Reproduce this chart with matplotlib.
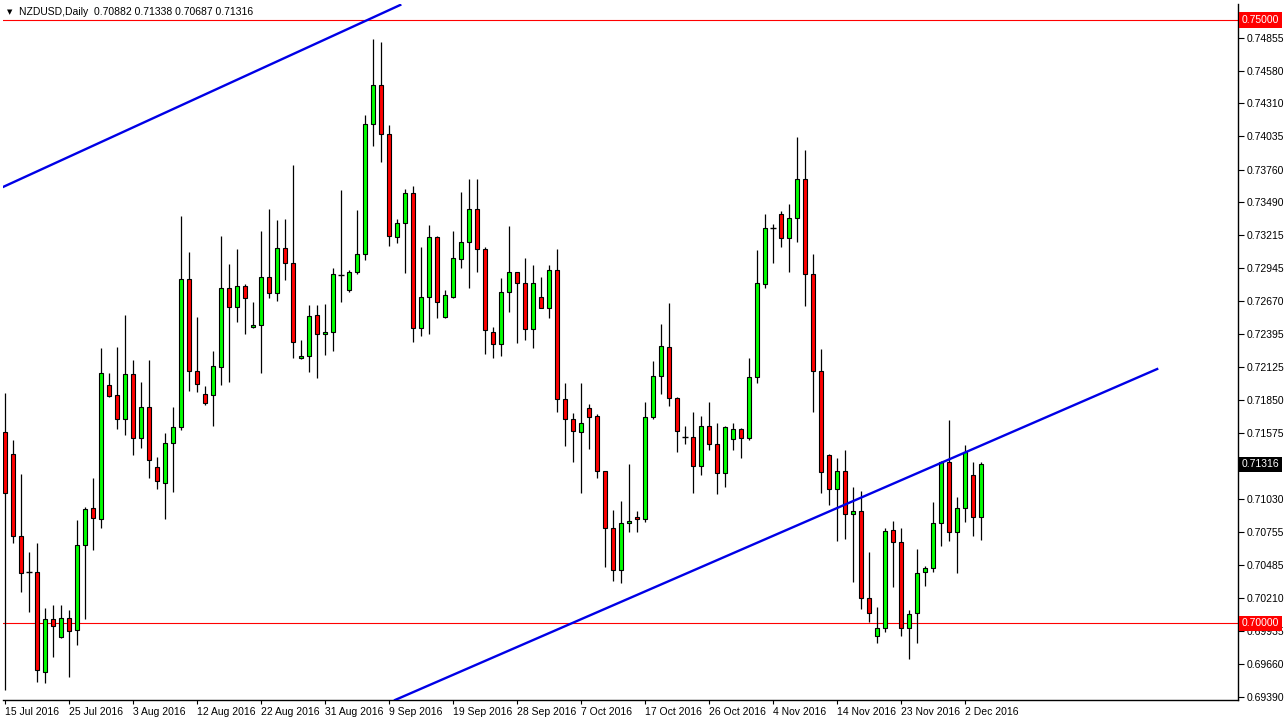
import matplotlib
matplotlib.use("Agg")
import matplotlib.pyplot as plt
import numpy as np

plt.rcParams["font.family"] = ["Liberation Sans", "DejaVu Sans"]

# NZDUSD daily candles
opens = [0.71585, 0.71402, 0.70723, 0.70424, 0.70424, 0.69595, 0.70034, 0.69885, 0.70043, 0.69943,
         0.70648, 0.70955, 0.70863, 0.71974, 0.71891, 0.71692, 0.72066, 0.71535, 0.71792, 0.71295,
         0.71162, 0.71494, 0.71626, 0.72853, 0.72090, 0.71900, 0.71891, 0.72124, 0.72778, 0.72621,
         0.72795, 0.72455, 0.72472, 0.72870, 0.72737, 0.73110, 0.72986, 0.72198, 0.72215, 0.72555,
         0.72397, 0.72414, 0.72886, 0.72762, 0.72911, 0.73060, 0.74138, 0.74461, 0.74055, 0.73201,
         0.73317, 0.73566, 0.72447, 0.72704, 0.73201, 0.72538, 0.72704, 0.73019, 0.73160, 0.73433,
         0.73102, 0.72414, 0.72314, 0.72745, 0.72911, 0.72820, 0.72439, 0.72704, 0.72613, 0.72928,
         0.71858, 0.71692, 0.71585, 0.71784, 0.71717, 0.71261, 0.70789, 0.70441, 0.70830, 0.70880,
         0.70863, 0.71709, 0.72049, 0.72289, 0.71867, 0.71543, 0.71543, 0.71303, 0.71634, 0.71485,
         0.71245, 0.71527, 0.71610, 0.71535, 0.72041, 0.72812, 0.73276, 0.73392, 0.73193, 0.73359,
         0.73682, 0.72895, 0.72090, 0.71394, 0.71112, 0.71261, 0.70905, 0.70930, 0.70209, 0.69894,
         0.69960, 0.70772, 0.70673, 0.69960, 0.70084, 0.70424, 0.70457, 0.70830, 0.71336, 0.70756,
         0.70955, 0.71228, 0.70882]
highs = [0.71908, 0.71518, 0.71237, 0.70590, 0.70665, 0.70126, 0.70151, 0.70151, 0.70109, 0.70855,
         0.70963, 0.71203, 0.72281, 0.72074, 0.72289, 0.72555, 0.72182, 0.71999, 0.72182, 0.71377,
         0.71576, 0.71792, 0.73375, 0.73077, 0.72538, 0.71966, 0.72256, 0.73210, 0.72977, 0.73102,
         0.72812, 0.72662, 0.73251, 0.73433, 0.73342, 0.73350, 0.73798, 0.72347, 0.72638, 0.72638,
         0.72646, 0.72944, 0.73591, 0.72928, 0.73425, 0.74213, 0.74843, 0.74818, 0.74130, 0.73350,
         0.73599, 0.73624, 0.73118, 0.73301, 0.73210, 0.72762, 0.73251, 0.73574, 0.73682, 0.73682,
         0.73118, 0.72455, 0.72861, 0.73292, 0.72915, 0.73027, 0.72969, 0.72870, 0.72969, 0.73102,
         0.71991, 0.71742, 0.71991, 0.71817, 0.71734, 0.71265, 0.70938, 0.71013, 0.71319, 0.70930,
         0.71833, 0.72173, 0.72480, 0.72654, 0.71875, 0.71634, 0.71751, 0.71717, 0.71833, 0.71659,
         0.71634, 0.71659, 0.71618, 0.72198, 0.73093, 0.73392, 0.73309, 0.73417, 0.73475, 0.74030,
         0.73922, 0.73060, 0.72273, 0.71402, 0.71369, 0.71435, 0.71129, 0.71096, 0.70590, 0.70134,
         0.70789, 0.70847, 0.70789, 0.70109, 0.70615, 0.70474, 0.71004, 0.71344, 0.71684, 0.71046,
         0.71477, 0.71336, 0.71338]
lows = [0.69446, 0.70665, 0.70258, 0.70093, 0.69512, 0.69504, 0.69719, 0.69877, 0.69554, 0.69819,
        0.70034, 0.70606, 0.70789, 0.71875, 0.71610, 0.71560, 0.71394, 0.71452, 0.71203, 0.71112,
        0.70863, 0.71087, 0.71601, 0.71925, 0.71916, 0.71809, 0.71634, 0.71974, 0.71999, 0.72497,
        0.72397, 0.72447, 0.72074, 0.72696, 0.72671, 0.72845, 0.72198, 0.72190, 0.72082, 0.72032,
        0.72223, 0.72256, 0.72662, 0.72745, 0.72895, 0.73011, 0.73956, 0.73823, 0.73127, 0.73152,
        0.72903, 0.72331, 0.72381, 0.72397, 0.72530, 0.72530, 0.72696, 0.72944, 0.72778, 0.72911,
        0.72231, 0.72198, 0.72215, 0.72580, 0.72323, 0.72347, 0.72281, 0.72610, 0.72530, 0.71751,
        0.71469, 0.71336, 0.71079, 0.71444, 0.71203, 0.70466, 0.70350, 0.70333, 0.70756, 0.70756,
        0.70839, 0.71692, 0.71900, 0.71800, 0.71419, 0.71485, 0.71079, 0.71228, 0.71435, 0.71071,
        0.71129, 0.71435, 0.71369, 0.71518, 0.71991, 0.72778, 0.72986, 0.73118, 0.72911, 0.73160,
        0.72629, 0.71751, 0.71079, 0.70980, 0.70681, 0.70698, 0.70341, 0.70117, 0.70010, 0.69836,
        0.69927, 0.70300, 0.69894, 0.69703, 0.69836, 0.70308, 0.70424, 0.70640, 0.70681, 0.70416,
        0.70839, 0.70723, 0.70687]
closes = [0.71079, 0.70723, 0.70416, 0.70424, 0.69612, 0.70034, 0.69976, 0.70043, 0.69935, 0.70648,
          0.70946, 0.70872, 0.72074, 0.71883, 0.71692, 0.72066, 0.71535, 0.71792, 0.71353, 0.71179,
          0.71494, 0.71626, 0.72853, 0.72090, 0.71983, 0.71825, 0.72132, 0.72778, 0.72621, 0.72795,
          0.72696, 0.72472, 0.72870, 0.72737, 0.73110, 0.72986, 0.72331, 0.72215, 0.72546, 0.72397,
          0.72414, 0.72895, 0.72886, 0.72911, 0.73060, 0.74138, 0.74461, 0.74055, 0.73210, 0.73317,
          0.73566, 0.72447, 0.72704, 0.73201, 0.72662, 0.72720, 0.73027, 0.73160, 0.73433, 0.73102,
          0.72430, 0.72314, 0.72745, 0.72911, 0.72820, 0.72439, 0.72820, 0.72613, 0.72928, 0.71858,
          0.71692, 0.71593, 0.71659, 0.71709, 0.71261, 0.70789, 0.70441, 0.70830, 0.70847, 0.70863,
          0.71709, 0.72049, 0.72298, 0.71867, 0.71593, 0.71543, 0.71303, 0.71634, 0.71485, 0.71245,
          0.71626, 0.71610, 0.71535, 0.72041, 0.72820, 0.73276, 0.73276, 0.73193, 0.73359, 0.73682,
          0.72895, 0.72090, 0.71253, 0.71112, 0.71261, 0.70905, 0.70930, 0.70209, 0.70084, 0.69960,
          0.70764, 0.70673, 0.69960, 0.70076, 0.70416, 0.70457, 0.70830, 0.71336, 0.70756, 0.70955,
          0.71419, 0.70880, 0.71316]

date_labels = ["15 Jul 2016", "25 Jul 2016", "3 Aug 2016", "12 Aug 2016", "22 Aug 2016",
               "31 Aug 2016", "9 Sep 2016", "19 Sep 2016", "28 Sep 2016", "7 Oct 2016",
               "17 Oct 2016", "26 Oct 2016", "4 Nov 2016", "14 Nov 2016", "23 Nov 2016",
               "2 Dec 2016"]
price_ticks = [0.74855, 0.74580, 0.74310, 0.74035, 0.73760, 0.73490, 0.73215, 0.72945, 0.72670,
               0.72395, 0.72125, 0.71850, 0.71575, 0.71030, 0.70755, 0.70485, 0.70210, 0.69935,
               0.69660, 0.69390]

# trend lines: (bar, price) anchors
trend_upper_x = [-0.25, 49.4]
trend_upper_y = [0.73616, 0.75125]
trend_lower_x = [48.75, 144.0]
trend_lower_y = [0.69363, 0.72107]

level_high = 0.75000
level_low = 0.70000

o = np.array(opens)
h = np.array(highs)
l = np.array(lows)
c = np.array(closes)
x = np.arange(len(o))

W, H = 1285, 723
fig = plt.figure(figsize=(W / 100, H / 100), dpi=100)
ax = fig.add_axes([3 / W, 23 / H, 1235 / W, 696 / H])
ax.set_xlim(-0.25, 154.1)
ax.set_ylim(0.69363, 0.75133)

ax.axhline(level_high, color="#ff0000", lw=0.8, zorder=1)
ax.axhline(level_low, color="#ff0000", lw=0.8, zorder=1)

ax.vlines(x, l, h, color="black", lw=0.9, zorder=2)
up = c > o
dn = c < o
flat = c == o
bw = 0.58
ax.bar(x[up], (c - o)[up], bottom=o[up], width=bw, color="#00ff00",
       edgecolor="black", linewidth=0.8, zorder=3)
ax.bar(x[dn], (o - c)[dn], bottom=c[dn], width=bw, color="#ff0000",
       edgecolor="black", linewidth=0.8, zorder=3)
ax.hlines(o[flat], x[flat] - 0.35, x[flat] + 0.35, color="black", lw=1.0, zorder=3)

ax.plot(trend_upper_x, trend_upper_y, color="#0000e6", lw=1.7, zorder=4)
ax.plot(trend_lower_x, trend_lower_y, color="#0000e6", lw=1.7, zorder=4)

# axes styling like the terminal
for s in ["top", "left"]:
    ax.spines[s].set_visible(False)
for s in ["right", "bottom"]:
    ax.spines[s].set_color("black")
    ax.spines[s].set_linewidth(1.0)

ax.yaxis.tick_right()
ax.set_yticks(price_ticks)
ax.set_yticklabels([f"{p:.5f}" for p in price_ticks])
ax.tick_params(axis="y", length=4, width=0.8, pad=2, labelsize=7.5, colors="black")

ax.set_xticks(np.arange(len(date_labels)) * 8)
ax.set_xticklabels(date_labels, ha="left")
ax.tick_params(axis="x", length=3, width=0.8, pad=2, labelsize=7.5, colors="black")
for lab in ax.get_xticklabels():
    lab.set_x(lab.get_position()[0])

ytr = ax.get_yaxis_transform()
for val, bg in [(level_high, "#ff0000"), (level_low, "#ff0000"), (closes[-1], "black")]:
    ax.text(1.0 + 4 / 1235, val, f"{val:.5f}", transform=ytr, ha="left", va="center",
            fontsize=7.5, color="white", clip_on=False, zorder=6,
            bbox=dict(boxstyle="square,pad=0.25", fc=bg, ec="none"))

fig.text(7 / W, 1 - 12 / H, "\u25bc", fontsize=5, va="center", ha="left",
         family="DejaVu Sans")
fig.text(19 / W, 1 - 12 / H,
         f"NZDUSD,Daily  {opens[-1]:.5f} {highs[-1]:.5f} {lows[-1]:.5f} {closes[-1]:.5f}",
         fontsize=7.5, va="center", ha="left")

fig.savefig("out.png", dpi=100, facecolor="white")
